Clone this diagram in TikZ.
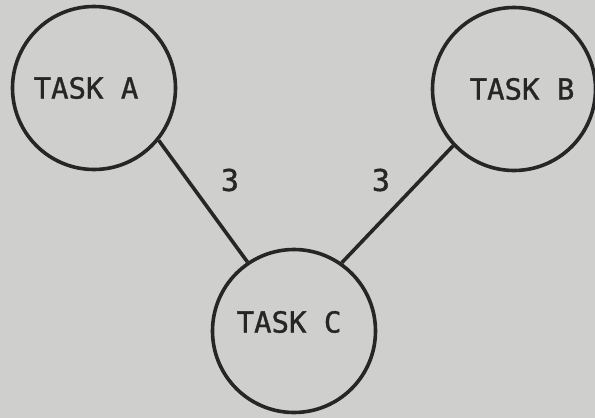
\documentclass[tikz,border=0pt]{standalone}
\usepackage{fontspec}
\newfontfamily\taskfont[FakeBold=1.2]{DejaVu Sans Mono}
\definecolor{paper}{HTML}{CFCFCD}
\definecolor{ink}{HTML}{262626}
\tikzset{
  task/.style={circle, draw=ink, line width=3.6pt, minimum size=163pt, inner sep=0pt},
  tasklabel/.style={text=ink, font=\taskfont\fontsize{29}{29}\selectfont, inner sep=0pt},
  link/.style={draw=ink, line width=3.6pt},
  weight/.style={text=ink, font=\taskfont\fontsize{30}{30}\selectfont, inner sep=0pt}
}
\begin{document}
\begin{tikzpicture}[x=1pt,y=-1pt]
\fill[paper] (0,0) rectangle (595,418);
\useasboundingbox (0,0) rectangle (595,418);
\node[task] (a) at (94,88) {};
\node[task] (b) at (514,89) {};
\node[task] (c) at (294,331) {};
\node[tasklabel] (ta) at (86,88) {TASK A};
\node[tasklabel] (tb) at (522,89) {TASK B};
\node[tasklabel] (tc) at (289,322) {TASK C};
\draw[link] (a.-39.5) -- (c.124);
\draw[link] (b.223.6) -- (c.55);
\node[weight] (wa) at (230,180) {3};
\node[weight] (wb) at (381,180) {3};
\end{tikzpicture}
\end{document}
